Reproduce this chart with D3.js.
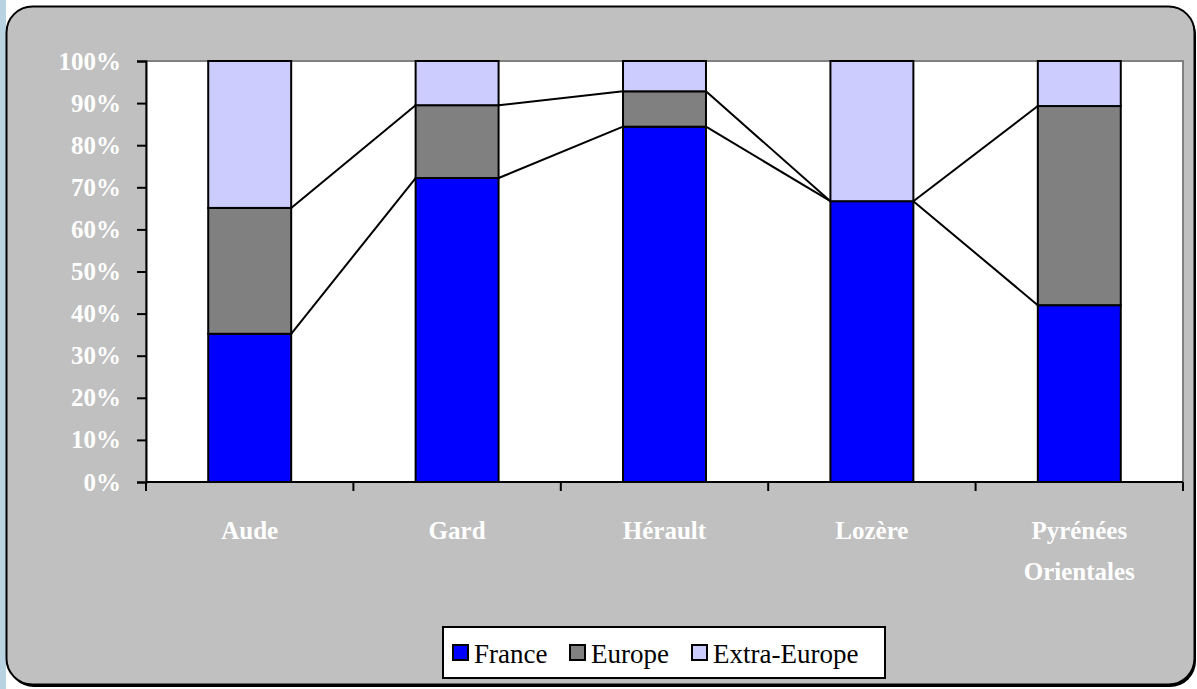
<!DOCTYPE html>
<html>
<head>
<meta charset="utf-8">
<script src="https://cdn.jsdelivr.net/npm/d3@7"></script>
<style>
  body { margin: 0; background: #ffffff; }
  svg { display: block; }
</style>
</head>
<body>
<div id="container"></div>
<script>
// data (percent of each department)
const categories = ['Aude', 'Gard', 'Hérault', 'Lozère', 'Pyrénées Orientales'];
const seriesNames = ['France', 'Europe', 'Extra-Europe'];
const france = [35.2, 72.2, 84.4, 66.7, 42.0];
const europe = [29.9, 17.3, 8.4, 0, 47.3];
const extraEurope = [34.9, 10.5, 7.2, 33.3, 10.7];
const seriesColors = ['#0000ff', '#808080', '#ccccff'];
const yTicks = [0, 10, 20, 30, 40, 50, 60, 70, 80, 90, 100];

const W = 1197, H = 689;
const margin = { left: 146, right: 1183, top: 61, bottom: 482 };
const serif = '"Liberation Serif", "Times New Roman", serif';

const svg = d3.select('#container').append('svg')
  .attr('width', W).attr('height', H);

// light blue strip on the left
svg.append('rect').attr('x', 0).attr('y', 0).attr('width', 6).attr('height', H)
  .style('fill', '#b9d3e2');

// chart panel with shadow
svg.append('rect').attr('x', 8).attr('y', 9).attr('width', 1188).attr('height', 678)
  .attr('rx', 26).style('fill', '#000');
svg.append('rect').attr('x', 6.5).attr('y', 6.5).attr('width', 1188).attr('height', 678)
  .attr('rx', 26).style('fill', '#c0c0c0').style('stroke', '#000').style('stroke-width', 2);

const x = d3.scaleBand().domain(categories).range([margin.left, margin.right])
  .paddingInner(0.6).paddingOuter(0.3);
const xCat = d3.scaleBand().domain(categories).range([margin.left, margin.right]);
const y = d3.scaleLinear().domain([0, 100]).range([margin.bottom, margin.top]);

// plot area
svg.append('rect')
  .attr('x', margin.left).attr('y', margin.top)
  .attr('width', margin.right - margin.left).attr('height', margin.bottom - margin.top)
  .style('fill', '#fff').style('stroke', '#808080').style('stroke-width', 2);

// stacked data
const rows = categories.map((c, i) => ({ cat: c, France: france[i], Europe: europe[i], 'Extra-Europe': extraEurope[i] }));
const stacked = d3.stack().keys(seriesNames)(rows);

// connector lines between bars (series tops)
[0, 1].forEach(s => {
  for (let i = 0; i < categories.length - 1; i++) {
    svg.append('line')
      .attr('x1', x(categories[i]) + x.bandwidth()).attr('y1', y(stacked[s][i][1]))
      .attr('x2', x(categories[i + 1])).attr('y2', y(stacked[s][i + 1][1]))
      .style('stroke', '#000').style('stroke-width', 2);
  }
});

stacked.forEach((layer, s) => {
  svg.append('g').selectAll('rect').data(layer).join('rect')
    .attr('x', d => x(d.data.cat))
    .attr('y', d => y(d[1]))
    .attr('width', x.bandwidth())
    .attr('height', d => y(d[0]) - y(d[1]))
    .style('fill', seriesColors[s])
    .style('stroke', '#000').style('stroke-width', 2);
});

// y axis
const yAxis = svg.append('g').attr('transform', `translate(${margin.left},0)`)
  .call(d3.axisLeft(y).tickValues(yTicks).tickFormat(d => d + '%').tickSize(9).tickPadding(16));
yAxis.select('.domain').style('stroke', '#000').style('stroke-width', 2);
yAxis.selectAll('.tick line').style('stroke', '#000').style('stroke-width', 2);
yAxis.selectAll('text').style('fill', '#fff').style('font-family', serif)
  .style('font-weight', 'bold').style('font-size', '25px');

// x axis: ticks at category boundaries
svg.append('line').attr('x1', margin.left).attr('x2', margin.right)
  .attr('y1', margin.bottom).attr('y2', margin.bottom)
  .style('stroke', '#000').style('stroke-width', 2);
const bounds = categories.map(c => xCat(c)).concat([margin.right]);
svg.append('g').selectAll('line').data(bounds).join('line')
  .attr('x1', d => d).attr('x2', d => d)
  .attr('y1', margin.bottom).attr('y2', margin.bottom + 9)
  .style('stroke', '#000').style('stroke-width', 2);

const xLabels = svg.append('g').selectAll('text').data(categories).join('text')
  .attr('x', d => xCat(d) + xCat.bandwidth() / 2)
  .attr('y', 539)
  .attr('text-anchor', 'middle')
  .style('fill', '#fff').style('font-family', serif)
  .style('font-weight', 'bold').style('font-size', '25px');
xLabels.each(function (d) {
  const words = d.split(' ');
  const t = d3.select(this);
  words.forEach((w, k) => {
    t.append('tspan').attr('x', xCat(d) + xCat.bandwidth() / 2)
      .attr('dy', k === 0 ? 0 : 41).text(w);
  });
});

// legend
const legend = svg.append('g');
legend.append('rect').attr('x', 443).attr('y', 627).attr('width', 442).attr('height', 51)
  .style('fill', '#fff').style('stroke', '#000').style('stroke-width', 2);
const legendX = [453, 570, 692];
seriesNames.forEach((name, i) => {
  legend.append('rect').attr('x', legendX[i]).attr('y', 645).attr('width', 15).attr('height', 15)
    .style('fill', seriesColors[i]).style('stroke', '#000').style('stroke-width', 2);
  legend.append('text').attr('x', legendX[i] + 21).attr('y', 663)
    .style('font-family', serif).style('font-size', '27px').style('fill', '#000')
    .text(name);
});
</script>
</body>
</html>
